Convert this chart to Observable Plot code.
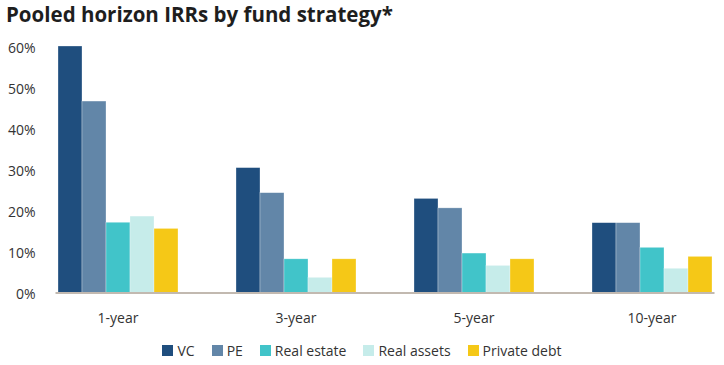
<!DOCTYPE html>
<html><head><meta charset="utf-8">
<script src="https://cdn.jsdelivr.net/npm/d3@7"></script>
<script src="https://cdn.jsdelivr.net/npm/@observablehq/plot@0.6"></script>
<style>
body{margin:0;background:#fff;font-family:"Open Sans",sans-serif;width:724px;height:365px;overflow:hidden;}
#title{font-weight:700;font-size:20.5px;color:#1e1e1e;padding:0 0 0 6px;height:32px;line-height:28px;white-space:nowrap;}
#chart svg{display:block;}
#legend{display:flex;justify-content:center;align-items:center;margin-top:9px;font-size:14px;color:#333;padding-left:0px;}
.item{display:flex;align-items:center;margin:0 8.5px;}
.sw{width:11px;height:11px;margin-right:4px;display:inline-block;}
</style></head><body>
<div id="title">Pooled horizon IRRs by fund strategy*</div>
<div id="chart"></div>
<div id="legend"></div>
<script>
const horizons = ["1-year", "3-year", "5-year", "10-year"];
const strategies = ["VC", "PE", "Real estate", "Real assets", "Private debt"];
const colors = ["#1f4e7e", "#6286a8", "#41c4c9", "#c6ecea", "#f5c817"];
const vc = [60.0, 30.4, 22.9, 17.0];
const pe = [46.6, 24.3, 20.6, 17.0];
const realEstate = [17.1, 8.2, 9.6, 11.0];
const realAssets = [18.6, 3.7, 6.6, 5.9];
const privateDebt = [15.6, 8.2, 8.2, 8.8];
const yTicks = [0, 10, 20, 30, 40, 50, 60];

const series = [vc, pe, realEstate, realAssets, privateDebt];
const data = [];
horizons.forEach((h, i) => series.forEach((s, j) => data.push({horizon: h, strategy: strategies[j], value: s[i]})));

const chart = Plot.plot({
  width: 724, height: 300,
  marginLeft: 55, marginRight: 11, marginTop: 14, marginBottom: 39.5,
  style: {fontFamily: "'Open Sans', sans-serif", fontSize: "14px", color: "#333", background: "#fff"},
  fx: {domain: horizons, paddingInner: 0.31, paddingOuter: 0, label: null},
  x: {domain: strategies, padding: 0, axis: null},
  y: {domain: [0, 60], label: null},
  color: {domain: strategies, range: colors},
  marks: [
    Plot.axisY({ticks: yTicks, tickFormat: d => d + "%", tickSize: 0, tickPadding: 21, dy: 2, label: null, fill: "#333"}),
    Plot.axisFx({anchor: "bottom", tickSize: 0, tickPadding: 20, label: null, fill: "#333"}),
    Plot.barY(data, {fx: "horizon", x: "strategy", y: "value", fill: "strategy", stroke: "#ffffff", strokeOpacity: 0.5, strokeWidth: 0.6}),
    Plot.frame({anchor: "bottom", facet: "super", stroke: "#c2b9b0", strokeWidth: 2})
  ]
});
document.getElementById("chart").appendChild(chart);

const legend = document.getElementById("legend");
strategies.forEach((s, i) => {
  const it = document.createElement("div");
  it.className = "item";
  const sw = document.createElement("span");
  sw.className = "sw";
  sw.style.background = colors[i];
  it.appendChild(sw);
  it.appendChild(document.createTextNode(s));
  legend.appendChild(it);
});
</script>
</body></html>
